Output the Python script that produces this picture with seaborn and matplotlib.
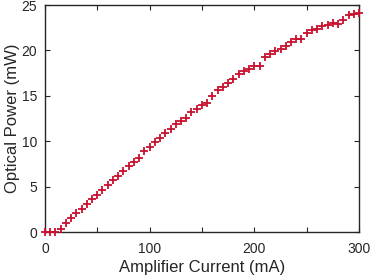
#!/usr/bin/env python3
"""Amplifier current vs optical power scatter."""

import matplotlib
matplotlib.use("Agg")
import matplotlib.pyplot as plt
import seaborn as sns
from matplotlib.ticker import MultipleLocator

# Amplifier current (mA) and measured optical power (mW)
current_ma = [0, 5, 10, 15, 20, 25, 30, 35, 40, 45,
              50, 55, 60, 65, 70, 75, 80, 85, 90, 95,
              100, 105, 110, 115, 120, 125, 130, 135, 140, 145,
              150, 155, 160, 165, 170, 175, 180, 185, 190, 195,
              200, 205, 210, 215, 220, 225, 230, 235, 240, 245,
              250, 255, 260, 265, 270, 275, 280, 285, 290, 295,
              300]
power_mw = [0.0, 0.0, 0.0, 0.3, 0.96, 1.5, 2.05, 2.55, 3.1, 3.6,
            4.1, 4.6, 5.2, 5.7, 6.2, 6.7, 7.3, 7.74, 8.2, 8.9,
            9.4, 9.9, 10.4, 10.9, 11.35, 11.85, 12.25, 12.6, 13.2, 13.5,
            14.0, 14.2, 15.0, 15.6, 16.0, 16.4, 16.9, 17.4, 17.7, 18.0,
            18.3, 18.3, 19.3, 19.6, 19.9, 20.2, 20.5, 20.9, 21.25, 21.25,
            21.95, 22.2, 22.4, 22.65, 22.85, 23.0, 22.9, 23.3, 23.9, 24.0,
            24.1]

x_ticks = [0, 100, 200, 300]
y_ticks = [0, 5, 10, 15, 20, 25]

sns.set_style("ticks")
plt.rcParams["font.family"] = ["Liberation Sans", "DejaVu Sans"]
ink = "#262626"

fig = plt.figure(figsize=(3.74, 2.8), dpi=100)
ax = fig.add_axes([0.12, 0.171, 0.84, 0.811])

sns.scatterplot(x=current_ma, y=power_mw, ax=ax, marker="+", color="#c8102e",
                s=34, linewidth=1.3, clip_on=False, zorder=3, legend=False)

ax.set_xlim(0, 300)
ax.set_ylim(0, 25)
ax.set_xticks(x_ticks)
ax.set_yticks(y_ticks)
ax.xaxis.set_minor_locator(MultipleLocator(50))

for side in ["top", "right", "bottom", "left"]:
    ax.spines[side].set_visible(True)
    ax.spines[side].set_color(ink)
    ax.spines[side].set_linewidth(1.0)

ax.tick_params(which="both", direction="in", top=True, right=True,
               length=3.5, width=0.8, color=ink, labelsize=10, labelcolor=ink)
ax.tick_params(axis="x", pad=7)
ax.tick_params(axis="y", pad=5.5)

ax.set_xlabel("Amplifier Current (mA)", fontsize=12, color=ink, labelpad=3)
ax.set_ylabel("Optical Power (mW)", fontsize=12, color=ink, labelpad=1)

fig.savefig("out.png", dpi=100)
